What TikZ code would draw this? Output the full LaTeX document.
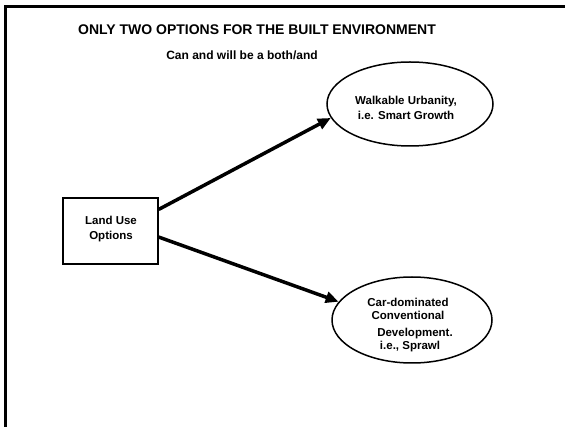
\documentclass[tikz,border=0pt]{standalone}
\usepackage{fontspec}
\setmainfont{Liberation Sans}
\usetikzlibrary{arrows.meta,shapes.geometric,calc}
\begin{document}
\begin{tikzpicture}[x=1pt,y=-1pt,
  lbl/.style={font=\fontsize{11.5}{15}\selectfont\bfseries, align=center, inner sep=0pt},
  oval/.style={draw, ellipse, line width=1.5pt, inner sep=0pt},
  boxn/.style={draw, rectangle, line width=1.5pt, inner sep=0pt, minimum width=95pt, minimum height=66pt},
  conn/.style={line width=3.5pt, -{Triangle[length=13pt,width=11pt]}}]
\useasboundingbox (0,0) rectangle (565,427);
% frame
\coordinate (fbl) at (5.5,430);
\coordinate (ftl) at (5.5,7);
\coordinate (ftr) at (568,7);
\draw[line width=3pt] (fbl) -- (ftl) -- (ftr);
% titles
\node[font=\fontsize{14}{16}\selectfont\bfseries, inner sep=0pt] (title) at (257,30) {ONLY TWO OPTIONS FOR THE BUILT ENVIRONMENT};
\node[font=\fontsize{12}{14}\selectfont\bfseries, inner sep=0pt] (sub) at (242,55) {Can and will be a both/and};
% nodes
\node[boxn] (box) at (110.5,231) {};
\node[lbl] (boxt) at (111,229.5) {Land Use\\Options};
\node[oval, minimum width=166pt, minimum height=84pt] (walk) at (410,104) {};
\node[lbl] (walkt) at (406,107.5) {Walkable Urbanity,\\i.e. Smart Growth};
\node[oval, minimum width=160pt, minimum height=86pt] (car) at (412,320) {};
\node[lbl, font=\fontsize{11.5}{13}\selectfont\bfseries] (cart) at (408,325.5) {Car-dominated\\Conventional\\[4pt]\hspace*{14pt}Development.\\\hspace*{4pt}i.e., Sprawl};
% connectors
\coordinate (s1) at ($(box.north east)!0.18!(box.south east)$);
\coordinate (s2) at ($(box.north east)!0.59!(box.south east)$);
\draw[conn] (s1) -- (walk.190);
\draw[conn] (s2) -- (car.166);
\end{tikzpicture}
\end{document}
